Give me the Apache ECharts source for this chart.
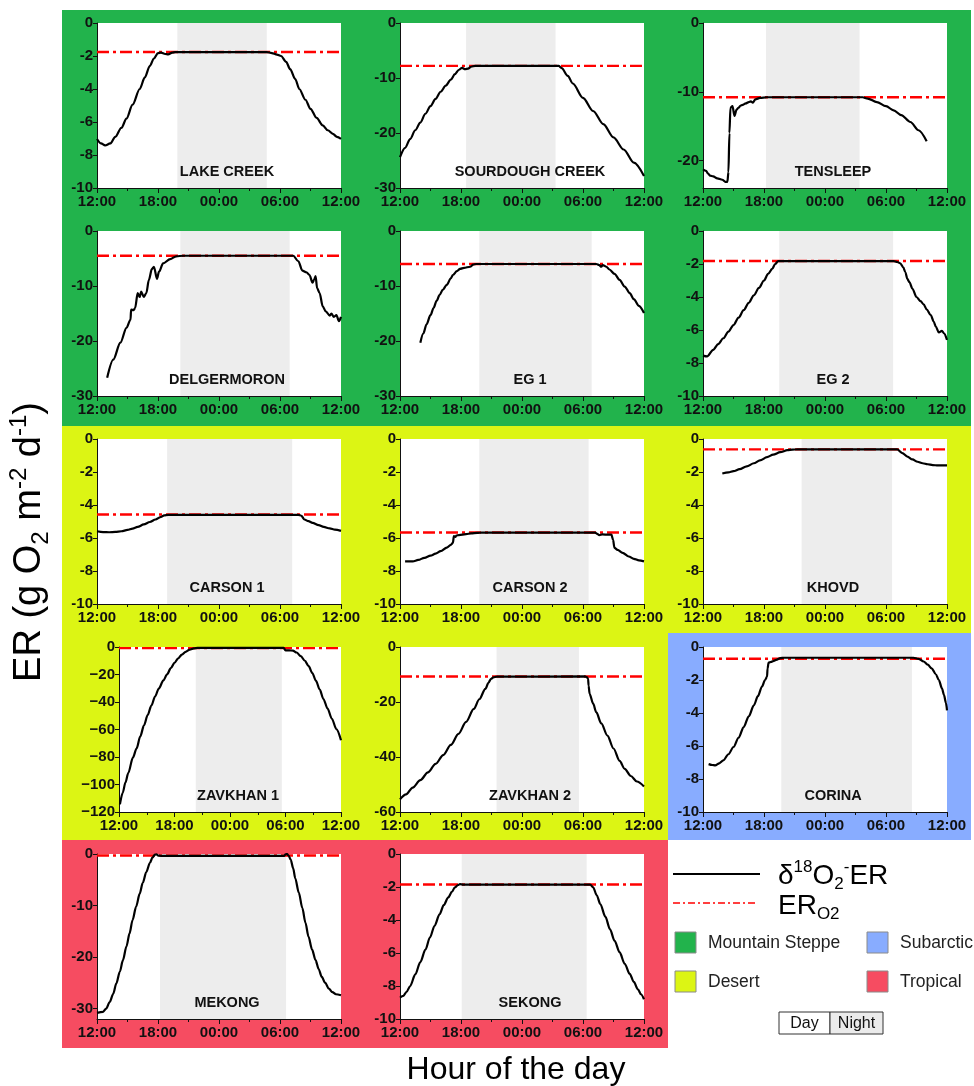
<!DOCTYPE html>
<html><head><meta charset="utf-8">
<script src="https://cdn.jsdelivr.net/npm/echarts@6/dist/echarts.min.js"></script>
<style>html,body{margin:0;padding:0;background:#fff}#c{width:974px;height:1086px}</style>
</head><body><div id="c"></div>
<script>
// ---------- DATA (x = hours elapsed since 12:00, y = ER in g O2 m-2 d-1) ----------
const siteNames = ['LAKE CREEK','SOURDOUGH CREEK','TENSLEEP','DELGERMORON','EG 1','EG 2',
  'CARSON 1','CARSON 2','KHOVD','ZAVKHAN 1','ZAVKHAN 2','CORINA','MEKONG','SEKONG'];
const biome = ['Mountain Steppe','Mountain Steppe','Mountain Steppe','Mountain Steppe','Mountain Steppe','Mountain Steppe',
  'Desert','Desert','Desert','Desert','Desert','Subarctic','Tropical','Tropical'];
const xTickLabels = ['12:00','18:00','00:00','06:00','12:00'];

const lakeCreek = [[0,-7.03],[0.4,-7.3],[0.8,-7.42],[1.3,-7.3],[1.8,-6.9],[2.4,-6.35],[2.9,-5.8],[3.5,-4.95],[4.2,-4.0],[4.7,-3.3],[5.2,-2.6],[5.6,-2.15],[6.0,-1.82],[6.3,-1.8],[6.7,-1.88],[7.0,-1.9],[7.4,-1.8],[7.7,-1.76],[12,-1.76],[16.7,-1.76],[17.2,-1.82],[17.7,-1.92],[18.1,-2.0],[18.6,-2.35],[19.0,-2.8],[19.5,-3.4],[19.9,-4.0],[20.5,-4.65],[21.0,-5.2],[21.6,-5.75],[22.2,-6.2],[22.7,-6.5],[23.2,-6.72],[23.6,-6.9],[24,-7.02]];
const sourdoughCreek = [[0,-24.4],[0.5,-22.7],[1,-21.1],[1.5,-19.5],[2,-18.1],[2.5,-16.5],[3,-15.1],[3.5,-13.8],[4,-12.5],[4.5,-11.4],[5,-10.3],[5.4,-9.3],[5.8,-8.5],[6.1,-8.15],[6.4,-8.4],[6.7,-8.3],[7.0,-7.95],[7.4,-7.8],[12,-7.8],[15.6,-7.8],[15.9,-8.2],[16.5,-9.6],[17,-11.0],[18,-13.6],[19,-16.0],[20,-18.4],[21,-20.8],[22,-23.0],[23,-25.4],[24,-27.8]];
const tensleep = [[0,-21.3],[0.3,-21.5],[0.5,-21.9],[0.7,-22.2],[1.0,-22.3],[1.4,-22.6],[1.9,-22.8],[2.2,-23.1],[2.4,-23.1],[2.5,-21.7],[2.6,-16],[2.7,-12.3],[2.9,-12.1],[3.1,-13.5],[3.3,-12.6],[3.5,-12.3],[3.7,-12.0],[3.9,-11.9],[4.2,-11.7],[4.5,-11.5],[4.7,-11.4],[4.9,-11.6],[5.15,-11.1],[5.6,-10.9],[6.3,-10.8],[10,-10.8],[15.7,-10.8],[16.2,-11.0],[17.1,-11.5],[18,-12.1],[18.75,-12.7],[19.5,-13.4],[20.4,-14.4],[21.2,-15.6],[22,-17.2]];
const delgermoron = [[1,-26.7],[1.6,-23.4],[2.3,-20.3],[2.9,-17.6],[3.3,-16.1],[3.35,-14.3],[3.6,-14.4],[3.75,-14.0],[4.0,-11.3],[4.2,-12.0],[4.35,-11.0],[4.6,-12.0],[4.85,-11.3],[5.1,-8.9],[5.4,-6.9],[5.6,-6.5],[5.9,-8.7],[6.1,-7.4],[6.5,-5.9],[7.2,-5.1],[7.8,-4.6],[8.5,-4.5],[19.3,-4.5],[19.8,-5.5],[20.2,-7.2],[20.6,-7.5],[20.9,-8.0],[21.2,-9.4],[21.35,-8.9],[21.5,-8.2],[21.65,-10.4],[21.9,-11.3],[22.2,-13.7],[22.5,-14.6],[22.9,-15.4],[23.05,-15.0],[23.3,-15.6],[23.55,-15.3],[23.8,-16.4],[24,-15.6]];
const eg1 = [[2,-20.3],[2.3,-18.6],[2.6,-17.0],[3.0,-15.3],[3.3,-14.0],[3.6,-12.7],[3.9,-11.6],[4.2,-10.7],[4.6,-9.8],[5.0,-8.6],[5.2,-8.0],[5.6,-7.3],[5.9,-6.9],[6.3,-6.7],[6.9,-6.5],[7.2,-6.1],[7.5,-6.0],[19.3,-6.0],[19.6,-6.2],[19.8,-6.5],[19.95,-6.2],[20.3,-6.5],[20.6,-7.0],[21.1,-7.8],[21.6,-8.9],[22.1,-10.1],[22.6,-11.3],[23.0,-12.4],[23.5,-13.6],[24,-14.9]];
const eg2 = [[0,-7.55],[0.4,-7.6],[1,-7.2],[1.5,-6.85],[2,-6.5],[2.5,-6.1],[3,-5.7],[3.5,-5.25],[4,-4.8],[4.5,-4.35],[5,-3.9],[5.5,-3.45],[6,-3.0],[6.4,-2.6],[6.8,-2.3],[7.1,-2.0],[7.4,-1.82],[18.75,-1.82],[19.1,-1.88],[19.4,-1.96],[19.7,-2.2],[19.9,-2.5],[20.1,-2.9],[20.3,-3.1],[20.6,-3.5],[21.0,-4.0],[21.4,-4.25],[21.7,-4.45],[22.0,-4.75],[22.4,-5.1],[22.7,-5.5],[22.9,-5.8],[23.2,-6.15],[23.5,-6.05],[23.7,-6.2],[24,-6.6]];
const carson1 = [[0,-5.59],[0.6,-5.64],[1.2,-5.65],[1.8,-5.63],[2.4,-5.59],[3.0,-5.51],[3.5,-5.43],[4.0,-5.33],[4.6,-5.18],[5.2,-5.03],[5.75,-4.88],[6.3,-4.72],[6.6,-4.63],[7.0,-4.6],[19.8,-4.6],[20.1,-4.65],[20.4,-4.88],[20.8,-4.98],[21.2,-5.08],[21.8,-5.22],[22.3,-5.33],[22.9,-5.42],[23.4,-5.49],[24,-5.57]];
const carson2 = [[0.5,-7.42],[1.25,-7.42],[1.8,-7.33],[2.4,-7.2],[3.0,-7.07],[3.5,-6.95],[4.0,-6.8],[4.6,-6.58],[5.0,-6.42],[5.2,-6.3],[5.3,-5.89],[5.45,-5.93],[5.55,-5.85],[5.8,-5.82],[6.5,-5.77],[7.0,-5.72],[7.6,-5.69],[8.0,-5.67],[19.2,-5.67],[19.4,-5.75],[19.6,-5.83],[19.9,-5.78],[20.5,-5.8],[20.8,-5.8],[20.95,-6.1],[21.1,-6.6],[21.4,-6.72],[21.9,-6.9],[22.5,-7.12],[23.0,-7.26],[23.5,-7.36],[24,-7.42]];
const khovd = [[1.9,-2.09],[2.5,-2.02],[3.0,-1.95],[3.6,-1.83],[4.3,-1.66],[5.0,-1.47],[5.6,-1.3],[6.3,-1.1],[6.9,-0.95],[7.6,-0.8],[8.3,-0.68],[8.8,-0.64],[9.3,-0.63],[19.1,-0.63],[19.6,-0.85],[20.1,-1.07],[20.6,-1.24],[21.1,-1.38],[21.6,-1.47],[22.1,-1.53],[22.6,-1.58],[23.1,-1.6],[24,-1.6]];
const zavkhan1 = [[0.1,-114.5],[0.4,-106],[0.7,-98.5],[1,-91.7],[1.5,-80.5],[1.9,-73.8],[2.3,-65],[2.7,-57],[3.1,-49.5],[3.5,-42.6],[3.9,-36],[4.3,-30.2],[4.8,-24.3],[5.2,-19.9],[5.6,-15.4],[6.0,-11.5],[6.4,-8.2],[6.8,-5.5],[7.2,-3.5],[7.65,-1.9],[8.1,-1.0],[8.5,-0.7],[17.8,-0.7],[18.0,-2.4],[18.4,-2.5],[18.8,-2.6],[19.2,-4.0],[19.65,-6.7],[20.1,-10],[20.5,-13.9],[20.9,-18.9],[21.3,-24.7],[21.7,-31],[22.1,-37.8],[22.55,-44.8],[23.0,-52],[23.5,-59.7],[24,-67.8]];
const zavkhan2 = [[0,-55.4],[0.6,-53.6],[1.25,-51.1],[2.0,-48.4],[2.75,-45.6],[3.5,-42.5],[4.25,-39.3],[5.0,-35.6],[5.75,-31.6],[6.5,-27.2],[7.26,-22.5],[7.8,-19.0],[8.4,-15.2],[8.7,-13.0],[8.95,-11.6],[9.2,-11.0],[9.5,-10.8],[18.2,-10.7],[18.4,-11.0],[18.5,-11.6],[18.55,-14],[18.65,-17.0],[19.0,-20.6],[19.3,-23.7],[19.8,-27.8],[20.4,-32.2],[21.0,-36.9],[21.6,-41.4],[22.1,-44.3],[22.7,-46.9],[23.3,-48.9],[24,-50.7]];
const corina = [[0.55,-7.1],[0.9,-7.15],[1.2,-7.17],[1.6,-7.05],[2.0,-6.87],[2.5,-6.5],[3.0,-6.06],[3.5,-5.5],[4.0,-4.85],[4.5,-4.2],[5.0,-3.54],[5.4,-2.98],[5.8,-2.4],[6.1,-2.0],[6.3,-1.8],[6.35,-1.3],[6.45,-0.95],[6.7,-0.9],[6.9,-0.85],[7.2,-0.78],[7.6,-0.67],[8.0,-0.65],[20.7,-0.65],[21.2,-0.72],[21.7,-0.88],[22.1,-1.07],[22.5,-1.3],[22.9,-1.65],[23.2,-2.0],[23.5,-2.5],[23.7,-2.9],[23.9,-3.4],[24,-3.84]];
const mekong = [[0,-30.8],[0.6,-30.6],[0.9,-30.0],[1.25,-28.7],[1.6,-27.1],[1.9,-25.1],[2.25,-22.8],[2.55,-20.6],[2.9,-17.9],[3.2,-15.4],[3.5,-12.8],[3.85,-10.2],[4.2,-7.7],[4.5,-5.6],[4.85,-3.5],[5.2,-1.75],[5.45,-0.7],[5.7,-0.13],[5.85,-0.05],[6.0,-0.3],[6.3,-0.35],[18.4,-0.35],[18.55,-0.05],[18.7,0],[18.85,-0.3],[19.05,-1.1],[19.3,-2.8],[19.5,-4.7],[19.85,-7.5],[20.2,-10.5],[20.5,-13.3],[20.8,-16.0],[21.15,-18.5],[21.5,-20.6],[21.8,-22.3],[22.1,-23.8],[22.45,-25.0],[22.8,-26.1],[23.15,-26.8],[23.5,-27.2],[24,-27.4]];
const sekong = [[0,-8.7],[0.33,-8.6],[0.65,-8.35],[1,-8.0],[1.5,-7.3],[2,-6.55],[2.5,-5.8],[2.95,-5.05],[3.4,-4.35],[3.9,-3.64],[4.3,-3.1],[4.75,-2.63],[5.1,-2.3],[5.4,-2.02],[5.7,-1.88],[5.9,-1.83],[6.2,-1.85],[18.7,-1.85],[19.0,-2.02],[19.35,-2.5],[19.7,-3.03],[20.2,-3.8],[20.65,-4.55],[21.1,-5.25],[21.6,-5.95],[22.1,-6.65],[22.6,-7.27],[23.0,-7.75],[23.4,-8.2],[23.7,-8.5],[24,-8.8]];

const erO2 = [-1.76,-7.8,-10.8,-4.5,-6.0,-1.82,-4.58,-5.67,-0.63,-0.8,-10.7,-0.71,-0.3,-1.85];
const nightStart = [7.9,6.5,6.2,8.2,7.8,7.5,6.9,7.8,9.7,8.3,9.5,7.7,6.2,6.07];
const nightEnd   = [16.7,15.3,15.4,18.95,18.85,18.7,19.2,18.55,18.6,17.6,17.6,20.55,18.6,18.36];
const yMin = [-10,-30,-24,-30,-30,-10,-10,-10,-10,-120,-60,-10,-32,-10];
const yTickValues = [
  [0,-2,-4,-6,-8,-10],[0,-10,-20,-30],[0,-10,-20],
  [0,-10,-20,-30],[0,-10,-20,-30],[0,-2,-4,-6,-8,-10],
  [0,-2,-4,-6,-8,-10],[0,-2,-4,-6,-8,-10],[0,-2,-4,-6,-8,-10],
  [0,-20,-40,-60,-80,-100,-120],[0,-20,-40,-60],[0,-2,-4,-6,-8,-10],
  [0,-10,-20,-30],[0,-2,-4,-6,-8,-10]
];
const erSeries = [lakeCreek,sourdoughCreek,tensleep,delgermoron,eg1,eg2,carson1,carson2,khovd,zavkhan1,zavkhan2,corina,mekong,sekong];

// ---------- STYLE / LAYOUT ----------
const biomeColor = {'Mountain Steppe':'#22B34C','Desert':'#DCF514','Subarctic':'#88ACFF','Tropical':'#F64C61'};
const FONT = 'Liberation Sans, Arial, Helvetica, sans-serif';
const colLeft = [97, 400, 703], colRight = [341, 644, 947];
const rowTop = [23, 231, 439, 647, 854], plotH = 165;

const grids = [], xAxes = [], yAxes = [], series = [], graphics = [];

// biome background blocks
const blocks = [
  [62,10,909,416,'Mountain Steppe'],
  [62,426,909,207,'Desert'],
  [62,633,606,207,'Desert'],
  [668,633,303,207,'Subarctic'],
  [62,840,606,208,'Tropical']
];
blocks.forEach(b => graphics.push({type:'rect', z:-5, silent:true,
  shape:{x:b[0],y:b[1],width:b[2],height:b[3]}, style:{fill:biomeColor[b[4]]}}));

function T(x, y, text, o) {
  o = o || {};
  const st = Object.assign({text:text, fontFamily:FONT, fontSize:o.size||14, fontWeight:o.weight||'normal',
    fill:o.fill||'#000', align:o.align||'left', verticalAlign:o.va||'middle',
    textAlign:o.align||'left', textVerticalAlign:o.va||'middle'}, o.rich ? {rich:o.rich} : {});
  return {type:'text', x:x, y:y, z:20, silent:true, rotation:o.rot||0, style:st};
}

siteNames.forEach((name, i) => {
  const r = Math.floor(i / 3), c = i % 3;
  let left = colLeft[c];
  if (i === 9) left = 119;
  const width = colRight[c] - left;
  const top = rowTop[r];
  grids.push({left:left, top:top, width:width, height:plotH, show:true, backgroundColor:'#fff', borderWidth:0, z:0});
  const minus = (i === 9) ? '\u2212' : '-';
  xAxes.push({type:'value', gridIndex:i, min:0, max:24, interval:6,
    axisLine:{onZero:false, lineStyle:{color:'#111', width:1}},
    axisTick:{show:true, length:5, lineStyle:{color:'#111'}},
    minorTick:{show:true, splitNumber:2, length:3, lineStyle:{color:'#111'}},
    splitLine:{show:false}, minorSplitLine:{show:false},
    axisLabel:{formatter:v => xTickLabels[Math.round(v/6)], fontFamily:FONT, fontSize:15, fontWeight:'bold', color:'#111', margin:6}
  });
  yAxes.push({type:'value', gridIndex:i, min:yMin[i], max:0,
    axisLine:{show:true, onZero:false, lineStyle:{color:'#111', width:1}},
    axisTick:{show:true, length:4, customValues:yTickValues[i], lineStyle:{color:'#111'}},
    axisLabel:{customValues:yTickValues[i], formatter:v => (v < 0 ? minus : '') + Math.abs(v),
      fontFamily:FONT, fontSize:15, fontWeight:'bold', color:'#111', margin:4},
    splitLine:{show:false}
  });
  series.push({type:'line', xAxisIndex:i, yAxisIndex:i, z:2, silent:true, symbol:'none',
    data:[[0, erO2[i]],[24, erO2[i]]],
    lineStyle:{color:'#FF0000', width:2.4, type:[12,4,3,4]}
  });
  series.push({type:'line', xAxisIndex:i, yAxisIndex:i, z:3, silent:true, symbol:'none',
    smooth:0.3, smoothMonotone:'x', data:erSeries[i],
    lineStyle:{color:'#000', width:2.2},
    markArea:{silent:true, itemStyle:{color:'#EDEDED'}, label:{show:false},
      data:[[{xAxis:nightStart[i]},{xAxis:nightEnd[i]}]]}
  });
  graphics.push(T(left + width/2 + 8, top + plotH - 16, name, {size:14.5, weight:'bold', align:'center', fill:'#111'}));
});

// axis titles
graphics.push(T(516, 1070, 'Hour of the day', {size:32, align:'center'}));
graphics.push(T(30, 542, '{m|ER (g O}{b|2}{m| m}{s|-2}{m| d}{s|-1}{m|)}', {align:'center', rot:Math.PI/2,
  rich:{m:{fontSize:38, lineHeight:46, fontFamily:FONT}, b:{fontSize:24, lineHeight:24, verticalAlign:'bottom', fontFamily:FONT},
        s:{fontSize:24, lineHeight:24, verticalAlign:'top', fontFamily:FONT}}}));

// legend
graphics.push({type:'line', z:20, silent:true, shape:{x1:673,y1:874,x2:760,y2:874}, style:{stroke:'#000', lineWidth:2}});
graphics.push({type:'line', z:20, silent:true, shape:{x1:673,y1:903,x2:757,y2:903}, style:{stroke:'#FF0000', lineWidth:1.3, lineDash:[7,3,2,3]}});
const legRich = {m:{fontSize:28, lineHeight:34, fontFamily:FONT}, b:{fontSize:17, lineHeight:17, verticalAlign:'bottom', fontFamily:FONT},
  s:{fontSize:17, lineHeight:17, verticalAlign:'top', fontFamily:FONT}};
graphics.push(T(778, 876, '{m|\u03B4}{s|18}{m|O}{b|2}{s|-}{m|ER}', {rich:legRich}));
graphics.push(T(778, 906, '{m|ER}{b|O2}', {rich:legRich}));
const swatches = [[675,932,'Mountain Steppe'],[867,932,'Subarctic'],[675,971,'Desert'],[867,971,'Tropical']];
swatches.forEach(s => {
  graphics.push({type:'rect', z:20, silent:true, shape:{x:s[0],y:s[1],width:21,height:21}, style:{fill:biomeColor[s[2]], stroke:'#8a8a8a', lineWidth:1}});
  graphics.push(T(s[0] + 33, s[1] + 11, s[2], {size:17.5, fill:'#222'}));
});
graphics.push({type:'rect', z:20, silent:true, shape:{x:779,y:1012,width:51,height:22}, style:{fill:'#fff', stroke:'#333', lineWidth:1}});
graphics.push({type:'rect', z:20, silent:true, shape:{x:830,y:1012,width:53,height:22}, style:{fill:'#EBEBEB', stroke:'#333', lineWidth:1}});
graphics.push(T(804.5, 1024, 'Day', {size:16, align:'center', fill:'#111'}));
graphics.push(T(856.5, 1024, 'Night', {size:16, align:'center', fill:'#111'}));

const chart = echarts.init(document.getElementById('c'), null, {renderer:'canvas'});
chart.setOption({animation:false, backgroundColor:'#fff', grid:grids, xAxis:xAxes, yAxis:yAxes, series:series, graphic:{elements:graphics}});
</script></body></html>
